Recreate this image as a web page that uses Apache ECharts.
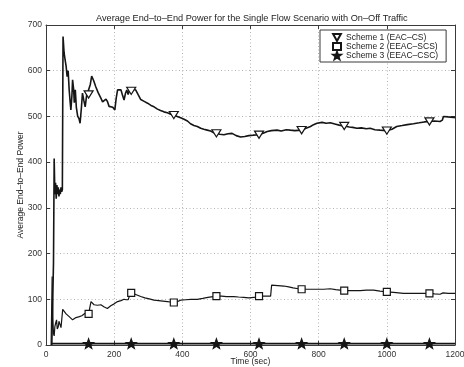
<!DOCTYPE html>
<html>
<head>
<meta charset="utf-8">
<script src="https://cdn.jsdelivr.net/npm/echarts@6/dist/echarts.min.js"></script>
<style>
  html, body { margin: 0; padding: 0; background: #fff; }
  #chart { width: 464px; height: 367px; }
</style>
</head>
<body>
<div id="chart"></div>
<script>
// Average end-to-end power (time in sec, power) for the three schemes
const scheme1Samples = [
  [17,0],[22,180],[24,408],[26,330],[28,355],[30,320],[32,350],[34,330],[36,345],[38,325],
  [40,340],[42,330],[44,345],[46,335],[48,340],[50,675],[53,640],[56,624],[59,610],[62,587],
  [65,600],[68,558],[71,530],[73,514],[76,545],[78,580],[81,560],[83,530],[86,558],[89,520],
  [93,500],[97,495],[100,485],[104,520],[107,551],[111,535],[115,521],[119,545],[122,551],[125,548],
  [130,570],[134,588],[140,578],[146,565],[153,552],[161,540],[166,532],[171,529],[176,538],[180,533],
  [185,522],[190,518],[196,520],[202,514],[206,540],[210,558],[215,555],[220,558],[225,545],[229,536],
  [233,550],[237,558],[241,548],[246,560],[250,556],[256,560],[263,558],[270,548],[278,537],[288,533],
  [298,529],[308,524],[317,521],[327,516],[336,513],[346,510],[356,508],[366,505],[375,503],[385,500],
  [395,497],[405,494],[415,490],[424,484],[434,480],[444,478],[454,474],[463,472],[473,470],[483,468],
  [490,465],[500,463],[510,461],[522,460],[534,462],[546,463],[558,458],[571,455],[583,456],[595,458],
  [608,459],[625,460],[637,463],[649,467],[661,469],[678,470],[690,468],[705,471],[717,470],[730,469],
  [750,470],[763,474],[776,478],[785,482],[795,485],[810,487],[822,485],[834,486],[850,483],[860,481],
  [875,479],[890,477],[900,476],[912,474],[925,475],[940,473],[951,474],[965,471],[980,470],[1000,469],
  [1015,472],[1029,478],[1045,480],[1060,482],[1078,484],[1095,486],[1110,488],[1125,489],[1140,490],[1156,489],
  [1163,492],[1166,500],[1180,499],[1195,498],[1200,497]
];

const scheme2Samples = [
  [15,0],[18,150],[20,60],[22,25],[24,20],[26,40],[29,50],[31,55],[33,35],[36,40],
  [38,52],[41,45],[44,38],[46,42],[49,78],[53,74],[59,68],[63,66],[68,62],[73,58],
  [78,55],[83,55],[88,60],[93,58],[98,62],[105,64],[112,68],[118,70],[125,68],[130,72],
  [132,95],[136,92],[141,88],[146,90],[151,87],[156,88],[161,88],[166,85],[171,83],[176,82],
  [180,80],[185,84],[190,86],[195,88],[200,90],[205,92],[210,95],[215,96],[220,97],[229,100],
  [235,99],[241,99],[245,100],[248,114],[250,114],[258,112],[265,110],[278,106],[290,103],[303,101],
  [317,98],[330,97],[343,96],[356,95],[365,94],[375,93],[385,95],[395,98],[410,99],[425,100],
  [444,100],[460,102],[475,104],[490,106],[500,107],[515,107],[530,106],[551,106],[565,105],[580,104],
  [595,103],[610,104],[625,107],[640,107],[659,107],[662,131],[680,130],[698,129],[712,127],[725,125],
  [740,123],[750,122],[770,122],[795,122],[815,122],[834,123],[850,121],[875,119],[900,119],[922,119],
  [940,120],[961,120],[980,118],[1000,116],[1020,115],[1049,113],[1070,113],[1088,113],[1105,113],[1125,113],
  [1140,112],[1156,111],[1165,114],[1180,113],[1200,113]
];

const scheme3Samples = [
  [15,3],[125,3],[250,3],[375,3],[500,3],[625,3],[750,3],[875,3],[1000,3],[1125,3],[1200,3]
];

// Times at which the scheme symbols are plotted, and the power there
const markerTimes = [125, 250, 375, 500, 625, 750, 875, 1000, 1125];
const scheme1MarkerPower = [548, 556, 503, 463, 460, 470, 479, 469, 489];
const scheme2MarkerPower = [68, 114, 93, 107, 107, 122, 119, 116, 113];
const scheme3MarkerPower = [3, 3, 3, 3, 3, 3, 3, 3, 3];

const schemeNames = ['Scheme 1 (EAC–CS)', 'Scheme 2 (EEAC–SCS)', 'Scheme 3 (EEAC–CSC)'];

const xTicks = { min: 0, max: 1200, interval: 200 };
const yTicks = { min: 0, max: 700, interval: 100 };

const FONT = '"Liberation Sans", Arial, Helvetica, sans-serif';
const INK = '#151515';
const FRAME = '#3a3a3a';

const TRI_DOWN = 'path://M0,0 L10,0 L5,9 Z';
const STAR = 'path://M10,0 L12.35,6.76 L19.51,6.91 L13.8,11.24 L15.88,18.09 L10,14 L4.12,18.09 L6.2,11.24 L0.49,6.91 L7.65,6.76 Z';

const zip = (ts, vs) => ts.map((t, i) => [t, vs[i]]);

function frameAxis(pos, ticks, isX, main) {
  return {
    type: 'value',
    position: pos,
    min: ticks.min, max: ticks.max, interval: ticks.interval,
    axisLine: { show: true, onZero: false, lineStyle: { color: FRAME, width: 1 } },
    axisTick: { show: true, inside: true, length: 4, lineStyle: { color: FRAME, width: 1 } },
    axisLabel: main ? {
      show: true, color: '#333', fontSize: 8.5, fontFamily: FONT, margin: isX ? 5 : 4,
      formatter: v => String(v)
    } : { show: false },
    splitLine: main ? {
      show: true, lineStyle: { color: '#b4b4b4', width: 1, type: [1, 2.5] }
    } : { show: false }
  };
}

const xMain = frameAxis('bottom', xTicks, true, true);
xMain.name = 'Time (sec)';
xMain.nameLocation = 'middle';
xMain.nameGap = 12;
xMain.nameMoveOverlap = false;
xMain.nameTextStyle = { color: '#222', fontSize: 8.5, fontFamily: FONT };

const yMain = frameAxis('left', yTicks, false, true);
yMain.name = 'Average End–to–End Power';
yMain.nameLocation = 'middle';
yMain.nameGap = 21;
yMain.nameMoveOverlap = false;
yMain.nameTextStyle = { color: '#222', fontSize: 8.5, fontFamily: FONT };

const lineSeries = (name, samples, width) => ({
  name, type: 'line', data: samples,
  showSymbol: false, symbol: 'none', silent: true,
  lineStyle: { color: INK, width },
  z: 2
});

const markerSeries = (name, values, symbol, size, fill) => ({
  name, type: 'scatter', data: zip(markerTimes, values),
  symbol, symbolSize: size, symbolKeepAspect: true, silent: true,
  itemStyle: { color: fill, borderColor: INK, borderWidth: 1.2, opacity: 1 },
  z: 3
});

const option = {
  animation: false,
  backgroundColor: '#fff',
  textStyle: { fontFamily: FONT },
  title: {
    text: 'Average End–to–End Power for the Single Flow Scenario with On–Off Traffic',
    left: 91, top: 9,
    textStyle: { fontSize: 9.2, fontWeight: 'normal', color: '#222', fontFamily: FONT }
  },
  grid: { left: 46, right: 9, top: 25, bottom: 22, containLabel: false, outerBoundsMode: 'none' },
  legend: {
    orient: 'vertical',
    left: 320, top: 30,
    padding: [3, 8, 2, 12],
    itemWidth: 8, itemHeight: 7, itemGap: 0,
    borderColor: FRAME, borderWidth: 1, backgroundColor: '#fff',
    textStyle: { fontSize: 8.5, color: '#222', fontFamily: FONT, lineHeight: 9, padding: [0, 0, 0, 0] },
    selectedMode: false,
    data: [
      { name: schemeNames[0], icon: TRI_DOWN },
      { name: schemeNames[1], icon: 'rect' },
      { name: schemeNames[2], icon: STAR }
    ]
  },
  xAxis: [xMain, frameAxis('top', xTicks, true, false)],
  yAxis: [yMain, frameAxis('right', yTicks, false, false)],
  series: [
    lineSeries('Scheme 1 trace', scheme1Samples, 1.6),
    lineSeries('Scheme 2 trace', scheme2Samples, 1.2),
    lineSeries('Scheme 3 trace', scheme3Samples, 1.8),
    markerSeries(schemeNames[0], scheme1MarkerPower, TRI_DOWN, [9, 8], '#fff'),
    markerSeries(schemeNames[1], scheme2MarkerPower, 'rect', [7, 7], '#fff'),
    markerSeries(schemeNames[2], scheme3MarkerPower, STAR, [10, 10], INK)
  ]
};

const chart = echarts.init(document.getElementById('chart'), null, { renderer: 'canvas' });
chart.setOption(option);
</script>
</body>
</html>
